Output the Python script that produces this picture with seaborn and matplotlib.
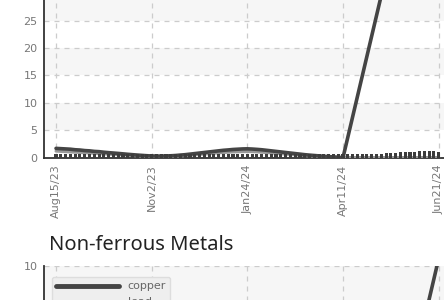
import numpy as np
import pandas as pd
import matplotlib
matplotlib.use("Agg")
import matplotlib.pyplot as plt
import seaborn as sns

# tick labels on the shared index axis (every 20th point)
tick_labels = ["Aug15/23", "Nov2/23", "Jan24/24", "Apr11/24", "Jun21/24"]
n_points = 81

# top panel: dark line (jumps after Apr11), lighter line, small bars
top_dark = [1.70, 1.65, 1.60, 1.55, 1.45, 1.40, 1.30, 1.25, 1.15, 1.10,
            1.00, 0.92, 0.85, 0.78, 0.70, 0.62, 0.55, 0.48, 0.42, 0.36,
            0.32, 0.30, 0.30, 0.32, 0.35, 0.40, 0.48, 0.55, 0.65, 0.75,
            0.85, 0.95, 1.05, 1.15, 1.25, 1.35, 1.42, 1.50, 1.55, 1.60,
            1.62, 1.58, 1.52, 1.45, 1.35, 1.25, 1.15, 1.05, 0.95, 0.85,
            0.75, 0.65, 0.55, 0.47, 0.40, 0.33, 0.26, 0.20, 0.14, 0.08,
            0.02] + [np.nan] * 19 + [74.0]
top_light = [1.20, 1.15, 1.10, 1.05, 1.00, 0.95, 0.90, 0.85, 0.80, 0.75,
             0.70, 0.65, 0.60, 0.55, 0.50, 0.45, 0.40, 0.35, 0.30, 0.26,
             0.22, 0.20, 0.20, 0.22, 0.25, 0.28, 0.33, 0.38, 0.45, 0.52,
             0.60, 0.67, 0.74, 0.81, 0.88, 0.95, 1.00, 1.05, 1.08, 1.10,
             1.12, 1.10, 1.06, 1.00, 0.94, 0.87, 0.80, 0.73, 0.66, 0.59,
             0.52, 0.45, 0.38, 0.32, 0.27, 0.22, 0.18, 0.14, 0.10, 0.06,
             0.03, 0.03, 0.03, 0.03, 0.03, 0.03, 0.03, 0.03, 0.03, 0.03,
             0.03, 0.03, 0.03, 0.03, 0.03, 0.03, 0.03, 0.03, 0.03, 0.03,
             0.03]
top_bars = [
    0.70, 0.70, 0.70, 0.70, 0.70, 0.70, 0.70, 0.70, 0.70, 0.70,
    0.70, 0.70, 0.70, 0.70, 0.70, 0.70, 0.70, 0.70, 0.70, 0.70,
    0.70, 0.70, 0.70, 0.70, 0.70, 0.70, 0.70, 0.70, 0.70, 0.70,
    0.70, 0.70, 0.70, 0.70, 0.70, 0.70, 0.70, 0.70, 0.70, 0.70,
    0.70, 0.70, 0.70, 0.70, 0.70, 0.70, 0.70, 0.70, 0.70, 0.70,
    0.70, 0.70, 0.70, 0.70, 0.70, 0.70, 0.70, 0.70, 0.70, 0.70,
    0.70, 0.70, 0.70, 0.70, 0.70, 0.70, 0.70, 0.70, 0.70, 0.80,
    0.85, 0.90, 0.95, 0.95, 1.00, 1.05, 1.15, 1.20, 1.20, 1.15,
    1.10]

# bottom panel: Non-ferrous Metals
copper = [2.1, 2.0, 2.0, 1.9, 1.9, 1.8, 1.8, 1.8, 1.7, 1.7,
          1.7, 1.6, 1.6, 1.6, 1.6, 1.5, 1.5, 1.5, 1.5, 1.5,
          1.5, 1.5, 1.6, 1.6, 1.6, 1.7, 1.7, 1.8, 1.8, 1.9,
          1.9, 2.0, 2.0, 2.1, 2.1, 2.2, 2.2, 2.2, 2.3, 2.3,
          2.3, 2.3, 2.2, 2.2, 2.1, 2.1, 2.0, 2.0, 1.9, 1.9,
          1.8, 1.8, 1.7, 1.7, 1.6, 1.6, 1.5, 1.5, 1.4, 1.4,
          1.3, 1.5, 1.8, 2.1, 2.4, 2.7, 3.0, 3.3, 3.6, 3.9,
          4.2, 4.5, 4.8, 5.1, 5.4, 5.8, 6.3, 7.31, 8.33, 9.35,
          10.37]
lead = [1.0, 1.0, 1.0, 1.0, 1.0, 1.0, 1.0, 1.0, 1.0, 1.0,
        1.0, 1.0, 1.0, 1.0, 1.0, 1.0, 1.0, 1.0, 1.0, 1.0,
        1.0, 1.0, 1.0, 1.0, 1.0, 1.0, 1.0, 1.0, 1.0, 1.0,
        1.0, 1.0, 1.0, 1.0, 1.0, 1.0, 1.0, 1.0, 1.0, 1.0,
        1.0, 1.0, 1.0, 1.0, 1.0, 1.0, 1.0, 1.0, 1.0, 1.0,
        1.0, 1.0, 1.0, 1.0, 1.0, 1.0, 1.0, 1.0, 1.0, 1.0,
        1.0, 1.0, 1.0, 1.0, 1.0, 1.0, 1.0, 1.0, 1.0, 1.0,
        1.0, 1.0, 1.0, 1.0, 1.0, 1.0, 1.0, 1.0, 1.0, 1.0,
        1.0]

idx = np.arange(n_points)
tick_pos = idx[::20]

sns.set_style("white")
plt.rcParams['font.family'] = ['DejaVu Sans']

fig = plt.figure(figsize=(4.44, 3.0), dpi=100)
ax1 = fig.add_axes([0.0998, 1 - 157.7 / 300, 0.9146, 164.4 / 300])
ax2 = fig.add_axes([0.0998, 1 - 466 / 300, 0.9146, 200 / 300])


def style_axes(ax, ymax, ystep, show_xlabels):
    yt = np.arange(0, ymax + ystep / 2, ystep)
    # alternating bands, topmost band shaded
    for i in range(len(yt) - 1):
        if (len(yt) - 2 - i) % 2 == 0:
            ax.axhspan(yt[i], yt[i + 1], color="#f6f6f6", zorder=0, lw=0)
    ax.set_xlim(-2.45, 82.45)
    ax.set_ylim(0, ymax)
    ax.set_yticks(yt)
    ax.set_yticklabels([f"{v:g}" for v in yt])
    ax.set_xticks(tick_pos)
    if show_xlabels:
        ax.set_xticklabels(tick_labels, rotation=90)
    else:
        ax.set_xticklabels([])
    ax.grid(True, color="#cccccc", linestyle=(0, (4, 4)), linewidth=0.9)
    ax.set_axisbelow(True)
    for s in ["top", "right"]:
        ax.spines[s].set_visible(False)
    for s in ["left", "bottom"]:
        ax.spines[s].set_color("#333333")
        ax.spines[s].set_linewidth(1.3)
    ax.tick_params(direction="inout", length=6, width=1.2, color="#333333",
                   labelcolor="#777777", labelsize=8, pad=2)
    ax.set_xlabel("")
    ax.set_ylabel("")


# top panel
sns.lineplot(x=idx, y=top_light, color="#999999", lw=2.2, ax=ax1, zorder=3)
sns.lineplot(x=idx, y=top_dark, color="#444444", lw=2.6, ax=ax1, zorder=4)
sns.barplot(x=idx, y=top_bars, native_scale=True, width=0.65, color="#3c3c3c",
            saturation=1, linewidth=0, ax=ax1, zorder=5)
style_axes(ax1, 30, 5, True)

# bottom panel
metals = pd.DataFrame({
    "idx": np.concatenate([idx, idx]),
    "value": copper + lead,
    "metal": ["copper"] * n_points + ["lead"] * n_points,
})
sns.lineplot(data=metals, x="idx", y="value", hue="metal",
             palette={"copper": "#444444", "lead": "#888888"}, lw=2.6,
             ax=ax2, zorder=3)
style_axes(ax2, 10, 2, False)
leg = ax2.legend(loc="upper left", bbox_to_anchor=(0.019, 0.945),
                 borderaxespad=0, handlelength=5.6, fontsize=8,
                 labelcolor="#666666", frameon=True, fancybox=True,
                 facecolor="#eeeeee", edgecolor="#dddddd", framealpha=1)
for line in leg.get_lines():
    line.set_linewidth(3.5)

fig.text(49 / 444, 1 - 250 / 300, "Non-ferrous Metals", fontsize=14.5,
         family="Noto Sans", color="#222222", va="baseline", ha="left")

fig.savefig("out.png", dpi=100)
